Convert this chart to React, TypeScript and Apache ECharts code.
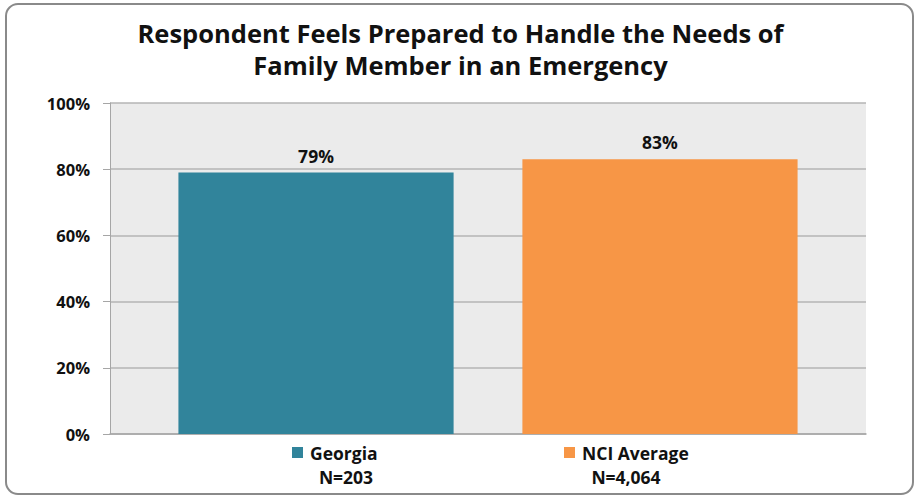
import React, { useEffect, useRef } from "react";
import * as echarts from "echarts";

const titleLines = ["Respondent Feels Prepared to Handle the Needs of", "Family Member in an Emergency"];
const seriesNames = ["Georgia", "NCI Average"];
const seriesValues = [79, 83];
const sampleSizes = ["N=203", "N=4,064"];
const seriesColors = ["#31849b", "#f79646"];
const yTicks = [0, 20, 40, 60, 80, 100];

const FONT = "'Open Sans', Lato, sans-serif";

export default function App() {
  const ref = useRef<HTMLDivElement>(null);
  useEffect(() => {
    if (!ref.current) return;
    const chart = echarts.init(ref.current, null, { renderer: "svg" });
    const legendX = [292, 564];
    const nX = [346, 626];
    const graphics: any[] = [
      {
        type: "rect",
        shape: { x: 6, y: 4, width: 907, height: 490, r: 12 },
        style: { fill: "none", stroke: "#8a8a8a", lineWidth: 2 },
        silent: true,
      },
    ];
    seriesNames.forEach((name, i) => {
      graphics.push({
        type: "rect",
        shape: { x: legendX[i], y: 447, width: 11, height: 11 },
        style: { fill: seriesColors[i] },
      });
      graphics.push({
        type: "text",
        x: legendX[i] + 18,
        y: 453,
        style: {
          text: name,
          fill: "#111",
          font: `bold 17.5px ${FONT}`,
          textVerticalAlign: "middle",
          textAlign: "left",
        },
      });
      graphics.push({
        type: "text",
        x: nX[i],
        y: 477,
        style: {
          text: sampleSizes[i],
          fill: "#111",
          font: `bold 17.5px ${FONT}`,
          textVerticalAlign: "middle",
          textAlign: "center",
        },
      });
    });

    chart.setOption({
      animation: false,
      backgroundColor: "#ffffff",
      title: {
        text: titleLines.join("\n"),
        left: "center",
        top: 12,
        textStyle: {
          fontFamily: FONT,
          fontWeight: "bold",
          fontSize: 25.5,
          lineHeight: 32,
          color: "#111",
        },
      },
      grid: {
        left: 110,
        right: 55,
        top: 103,
        bottom: 64,
        show: true,
        backgroundColor: "#ebebeb",
        borderWidth: 0,
      },
      xAxis: {
        type: "category",
        data: [""],
        axisLine: { show: true, lineStyle: { color: "#a6a6a6", width: 1.5 } },
        axisTick: { show: false },
        axisLabel: { show: false },
      },
      yAxis: {
        type: "value",
        min: yTicks[0],
        max: yTicks[yTicks.length - 1],
        interval: 20,
        axisLine: { show: true, lineStyle: { color: "#a6a6a6", width: 1 } },
        axisTick: { show: true, inside: false, length: 7, lineStyle: { color: "#a6a6a6" } },
        splitLine: { show: true, lineStyle: { color: "#b4b4b4", width: 1.5 } },
        axisLabel: {
          formatter: (v: number) => `${v}%`,
          fontFamily: FONT,
          fontWeight: "bold",
          fontSize: 16.5,
          color: "#111",
          margin: 20,
        },
      },
      series: seriesNames.map((name, i) => ({
        type: "bar",
        name,
        data: [seriesValues[i]],
        barWidth: "36.4%",
        barGap: "25%",
        itemStyle: { color: seriesColors[i] },
        label: {
          show: true,
          position: "top",
          distance: 8,
          formatter: (p: any) => `${p.value}%`,
          fontFamily: FONT,
          fontWeight: "bold",
          fontSize: 17.5,
          color: "#111",
        },
      })),
      graphic: graphics,
    });
    return () => chart.dispose();
  }, []);
  return (
    <div
      ref={ref}
      style={{ position: "fixed", left: 0, top: 0, width: 921, height: 498 }}
    />
  );
}
